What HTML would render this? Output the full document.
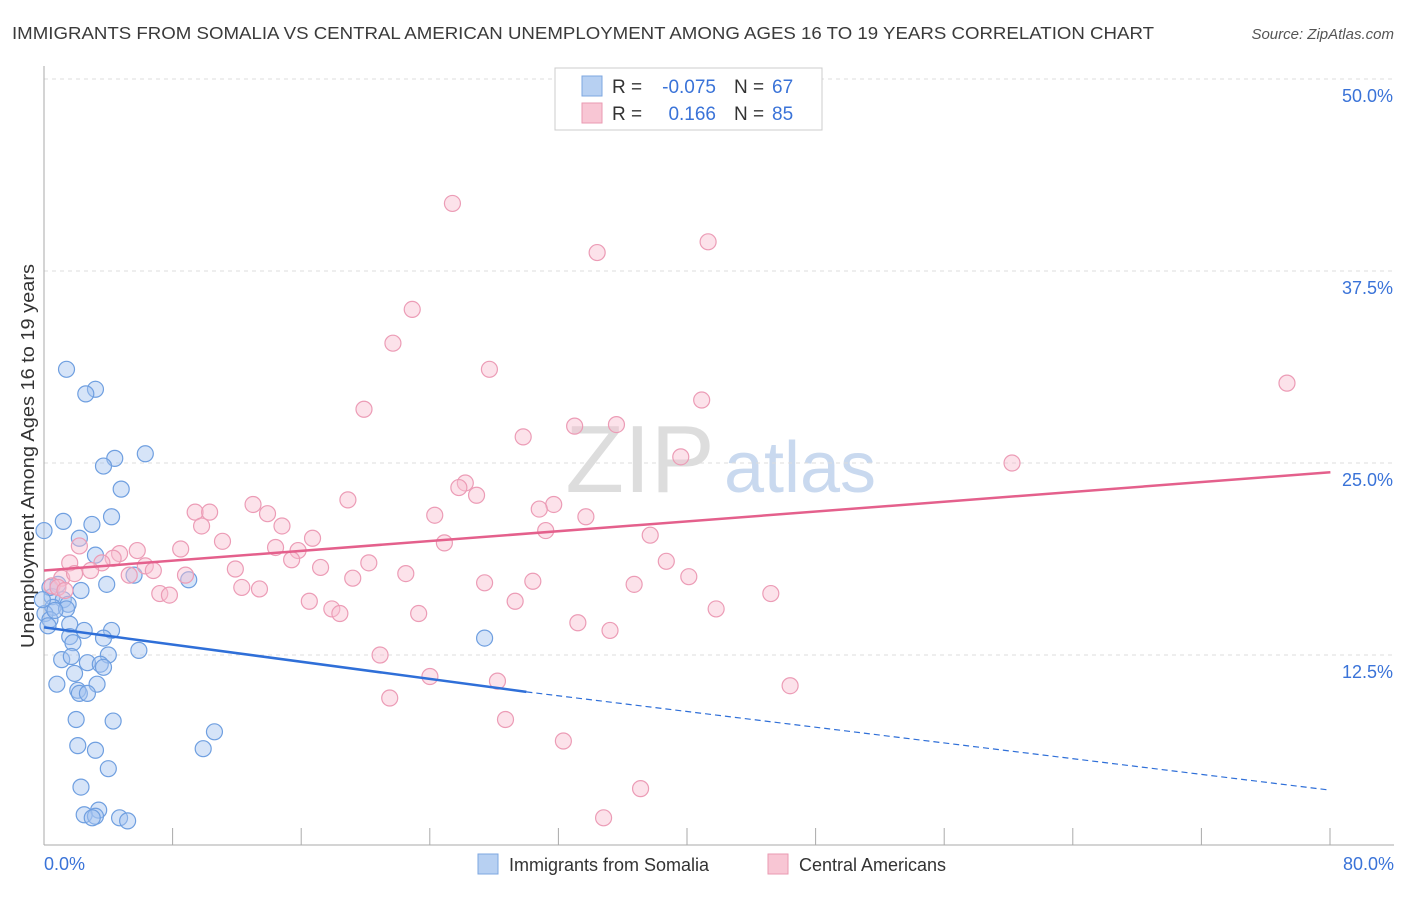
<!DOCTYPE html>
<html><head><meta charset="utf-8">
<style>
body{margin:0;background:#fff;font-family:"Liberation Sans",sans-serif;}
svg text{font-family:"Liberation Sans",sans-serif;}
</style></head>
<body>
<svg id="chart" width="1406" height="892" xmlns="http://www.w3.org/2000/svg">
<text x="12" y="39" font-size="17.5" fill="#3a3a3a" textLength="1142" lengthAdjust="spacingAndGlyphs">IMMIGRANTS FROM SOMALIA VS CENTRAL AMERICAN UNEMPLOYMENT AMONG AGES 16 TO 19 YEARS CORRELATION CHART</text>
<text x="1394" y="39" font-size="15" fill="#555" font-style="italic" text-anchor="end">Source: ZipAtlas.com</text>
<text x="640" y="492" font-size="96" fill="#ddd" font-family="Liberation Serif" text-anchor="middle">ZIP</text>
<text x="800" y="492" font-size="72" fill="#c9d9ef" text-anchor="middle">atlas</text>
<g id="grid"></g>
<g id="axes"></g>
<g id="pts"></g>
<g id="trend"></g>
<text transform="translate(34,456) rotate(-90)" font-size="18" fill="#333" text-anchor="middle" textLength="384" lengthAdjust="spacingAndGlyphs">Unemployment Among Ages 16 to 19 years</text>
<g>
<rect x="555" y="68" width="267" height="62" fill="#fff" stroke="#ccc"/>
<rect x="582" y="76" width="20" height="20" fill="#b7d0f2" stroke="#7ea7e0"/>
<rect x="582" y="103" width="20" height="20" fill="#f8c6d4" stroke="#ea9ab2"/>
<text x="612" y="93" font-size="19" fill="#333">R =</text>
<text x="716" y="93" font-size="19" fill="#3a73d8" text-anchor="end">-0.075</text>
<text x="734" y="93" font-size="19" fill="#333">N =</text>
<text x="772" y="93" font-size="19" fill="#3a73d8">67</text>
<text x="612" y="120" font-size="19" fill="#333">R =</text>
<text x="716" y="120" font-size="19" fill="#3a73d8" text-anchor="end">0.166</text>
<text x="734" y="120" font-size="19" fill="#333">N =</text>
<text x="772" y="120" font-size="19" fill="#3a73d8">85</text>
</g>
<g><rect x="478" y="854" width="20" height="20" fill="#b7d0f2" stroke="#7ea7e0"/><text x="509" y="871" font-size="18" fill="#333">Immigrants from Somalia</text></g>
<g><rect x="768" y="854" width="20" height="20" fill="#f8c6d4" stroke="#ea9ab2"/><text x="799" y="871" font-size="18" fill="#333">Central Americans</text></g>
</svg>
<script>
const yTicks=[12.5,25.0,37.5,50.0];
const xTickLabels=["0.0%","80.0%"];
const blueX=[1.4,3.2,2.6,6.3,4.4,3.7,4.8,4.2,1.2,2.98,0,2.2,3.2,5.6,9.0,3.9,2.3,0.87,0.5,1.2,1.5,0.56,1.4,0.06,0.37,1.6,2.5,4.2,1.6,3.7,1.8,5.9,4.0,1.1,1.7,2.7,3.5,3.7,1.9,0.8,3.3,2.1,2.2,2.7,2.0,4.3,10.6,2.1,3.2,9.9,4.0,2.3,3.4,2.5,3.2,4.7,3.0,5.2,27.4,0.37,0.68,0.25,-0.1];
const blueY=[31.1,29.8,29.5,25.6,25.3,24.8,23.3,21.5,21.2,21.0,20.6,20.1,19.0,17.7,17.4,17.1,16.7,17.1,16.3,16.1,15.8,15.6,15.5,15.2,14.8,14.5,14.1,14.1,13.7,13.6,13.3,12.8,12.5,12.2,12.4,12.0,11.9,11.7,11.3,10.6,10.6,10.2,10.0,10.0,8.3,8.2,7.5,6.6,6.3,6.4,5.1,3.9,2.4,2.1,2.0,1.9,1.9,1.7,13.6,16.9,15.4,14.4,16.1];
const pinkX=[25.4,34.4,41.3,22.9,21.7,27.7,19.9,40.9,77.3,33.0,35.6,29.8,39.6,60.2,26.2,25.8,26.9,18.9,31.7,30.8,13.0,9.4,10.3,13.9,24.3,33.7,9.8,14.8,31.2,11.1,37.7,16.7,24.9,14.4,15.8,8.5,5.8,4.7,4.3,15.4,2.2,1.6,3.6,6.3,6.8,11.9,20.2,17.2,22.5,38.7,40.1,19.2,5.3,8.8,2.9,1.1,30.4,27.4,36.7,12.3,13.4,7.2,7.8,45.2,16.5,29.3,17.9,18.4,23.3,41.8,33.2,35.2,20.9,24.0,28.2,46.4,21.5,28.7,32.3,37.1,34.8,0.5,0.87,1.3,1.9];
const pinkY=[41.9,38.7,39.4,35.0,32.8,31.1,28.5,29.1,30.2,27.4,27.5,26.7,25.4,25.0,23.7,23.4,22.9,22.6,22.3,22.0,22.3,21.8,21.8,21.7,21.6,21.5,20.9,20.9,20.6,19.9,20.3,20.1,19.8,19.5,19.3,19.4,19.3,19.1,18.8,18.7,19.6,18.5,18.5,18.3,18.0,18.1,18.5,18.2,17.8,18.6,17.6,17.5,17.7,17.7,18.0,17.5,17.3,17.2,17.1,16.9,16.8,16.5,16.4,16.5,16.0,16.0,15.5,15.2,15.2,15.5,14.6,14.1,12.5,11.1,10.8,10.5,9.7,8.3,6.9,3.8,1.9,17.0,16.9,16.7,17.8];
const blueTrend=[[0,14.3],[30,10.1]];
const blueTrendDash=[[30,10.1],[80,3.7]];
const pinkTrend=[[0,18.0],[80,24.4]];
const NS="http://www.w3.org/2000/svg";
const X=v=>44+v*16.08, Y=v=>847-v*15.36;
function mk(t,a,p){const e=document.createElementNS(NS,t);for(const k in a)e.setAttribute(k,a[k]);p.appendChild(e);return e;}
const grid=document.getElementById('grid'),axes=document.getElementById('axes'),pts=document.getElementById('pts'),trend=document.getElementById('trend');
yTicks.forEach(v=>{
 const l=mk('line',{x1:44,x2:1394,y1:Y(v),y2:Y(v),stroke:'#ddd','stroke-dasharray':'4,4'},grid);
 
 
 const t=mk('text',{x:1393,y:Y(v)+23,'font-size':18,fill:'#3a73d8','text-anchor':'end'},axes);
 t.textContent=v.toFixed(1)+'%';
 
 
});
const ax=mk('line',{x1:44,x2:1394,y1:845,y2:845,stroke:'#aaa'},axes);


const ay=mk('line',{x1:44,x2:44,y1:66,y2:845,stroke:'#aaa'},axes);


for(let i=0;i<=10;i++){const x=44+i*128.6;const tk=mk('line',{x1:x,x2:x,y1:828,y2:845,stroke:'#aaa'},axes);
 
 }
[[0,'start',44],[1,'end',1394]].forEach(([i,a,x])=>{const t=mk('text',{x:x,y:870,'font-size':18,fill:'#3a73d8','text-anchor':a},axes);t.textContent=xTickLabels[i];
 
 });
blueX.forEach((v,i)=>{const c=mk('circle',{cx:X(v),cy:Y(blueY[i]),r:8,fill:'rgba(164,196,240,0.45)',stroke:'#6f9fe0','stroke-width':1.2},pts);
 
 });
pinkX.forEach((v,i)=>{const c=mk('circle',{cx:X(v),cy:Y(pinkY[i]),r:8,fill:'rgba(248,190,208,0.45)',stroke:'#ec9cb6','stroke-width':1.2},pts);
 
 });
const b=mk('line',{x1:X(blueTrend[0][0]),y1:Y(blueTrend[0][1]),x2:X(blueTrend[1][0]),y2:Y(blueTrend[1][1]),stroke:'#2f6fd8','stroke-width':2.5},trend);


const bd=mk('line',{x1:X(blueTrendDash[0][0]),y1:Y(blueTrendDash[0][1]),x2:X(blueTrendDash[1][0]),y2:Y(blueTrendDash[1][1]),stroke:'#2f6fd8','stroke-width':1.2,'stroke-dasharray':'6,4'},trend);


const p=mk('line',{x1:X(pinkTrend[0][0]),y1:Y(pinkTrend[0][1]),x2:X(pinkTrend[1][0]),y2:Y(pinkTrend[1][1]),stroke:'#e4608c','stroke-width':2.5},trend);


</script>
</body></html>
